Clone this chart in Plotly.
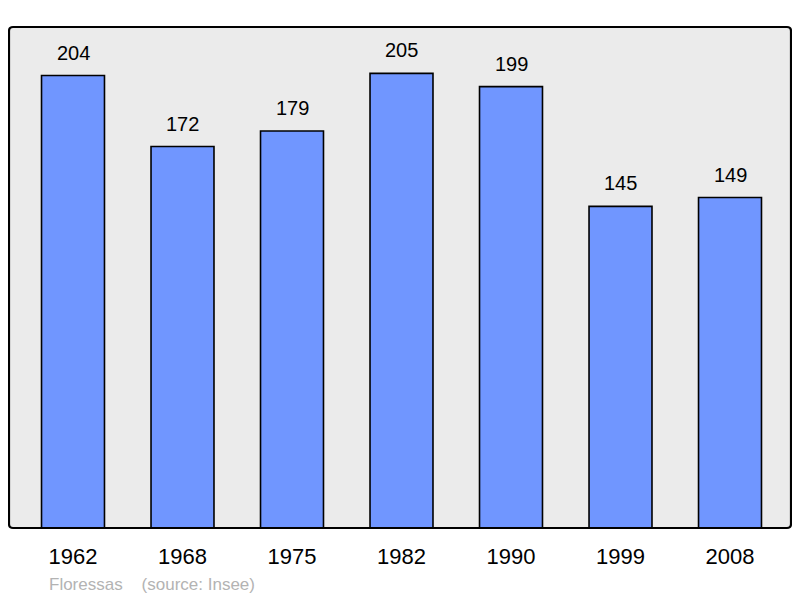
import plotly.graph_objects as go

years = ["1962", "1968", "1975", "1982", "1990", "1999", "2008"]
population = [204, 172, 179, 205, 199, 145, 149]
footer_text = "Floressas    (source: Insee)"

FONT = "Liberation Sans, Arial, sans-serif"
PW, PH = 782, 501  # plot area in px

fig = go.Figure()
fig.add_trace(go.Bar(
    x=years, y=population, width=0.575,
    marker=dict(color="#7096ff", line=dict(color="black", width=1.6)),
    hoverinfo="skip",
))
for i, v in enumerate(population):
    fig.add_annotation(x=i, y=v, text=str(v), showarrow=False,
                       xref="x", yref="y",
                       yanchor="bottom", yshift=10,
                       font=dict(family=FONT, size=20, color="black"))

# rounded plot-area frame
r = 4
rx, ry = r / PW, r / PH
path = (f"M {rx},1 L {1-rx},1 Q 1,1 1,{1-ry} L 1,{ry} Q 1,0 {1-rx},0 "
        f"L {rx},0 Q 0,0 0,{ry} L 0,{1-ry} Q 0,1 {rx},1 Z")
fig.add_shape(type="path", path=path, xref="paper", yref="paper",
              line=dict(color="black", width=2.2), layer="above")

fig.add_annotation(xref="paper", yref="paper", x=38 / PW, y=-56 / PH,
                   xanchor="left", yanchor="middle", showarrow=False,
                   text=footer_text,
                   font=dict(family=FONT, size=17, color="#b3b3b3"))

fig.update_layout(
    width=784, height=590,
    margin=dict(l=1, r=1, t=19, b=70),
    paper_bgcolor="white", plot_bgcolor="#ebebeb",
    showlegend=False,
    xaxis=dict(type="category", range=[-0.5845, 6.557], showgrid=False, zeroline=False,
               ticks="outside", ticklen=9, tickcolor="rgba(0,0,0,0)",
               tickfont=dict(family=FONT, size=22, color="black")),
    yaxis=dict(range=[0, 225.9], showgrid=False, zeroline=False, showticklabels=False),
)
fig.write_html("out.html")
